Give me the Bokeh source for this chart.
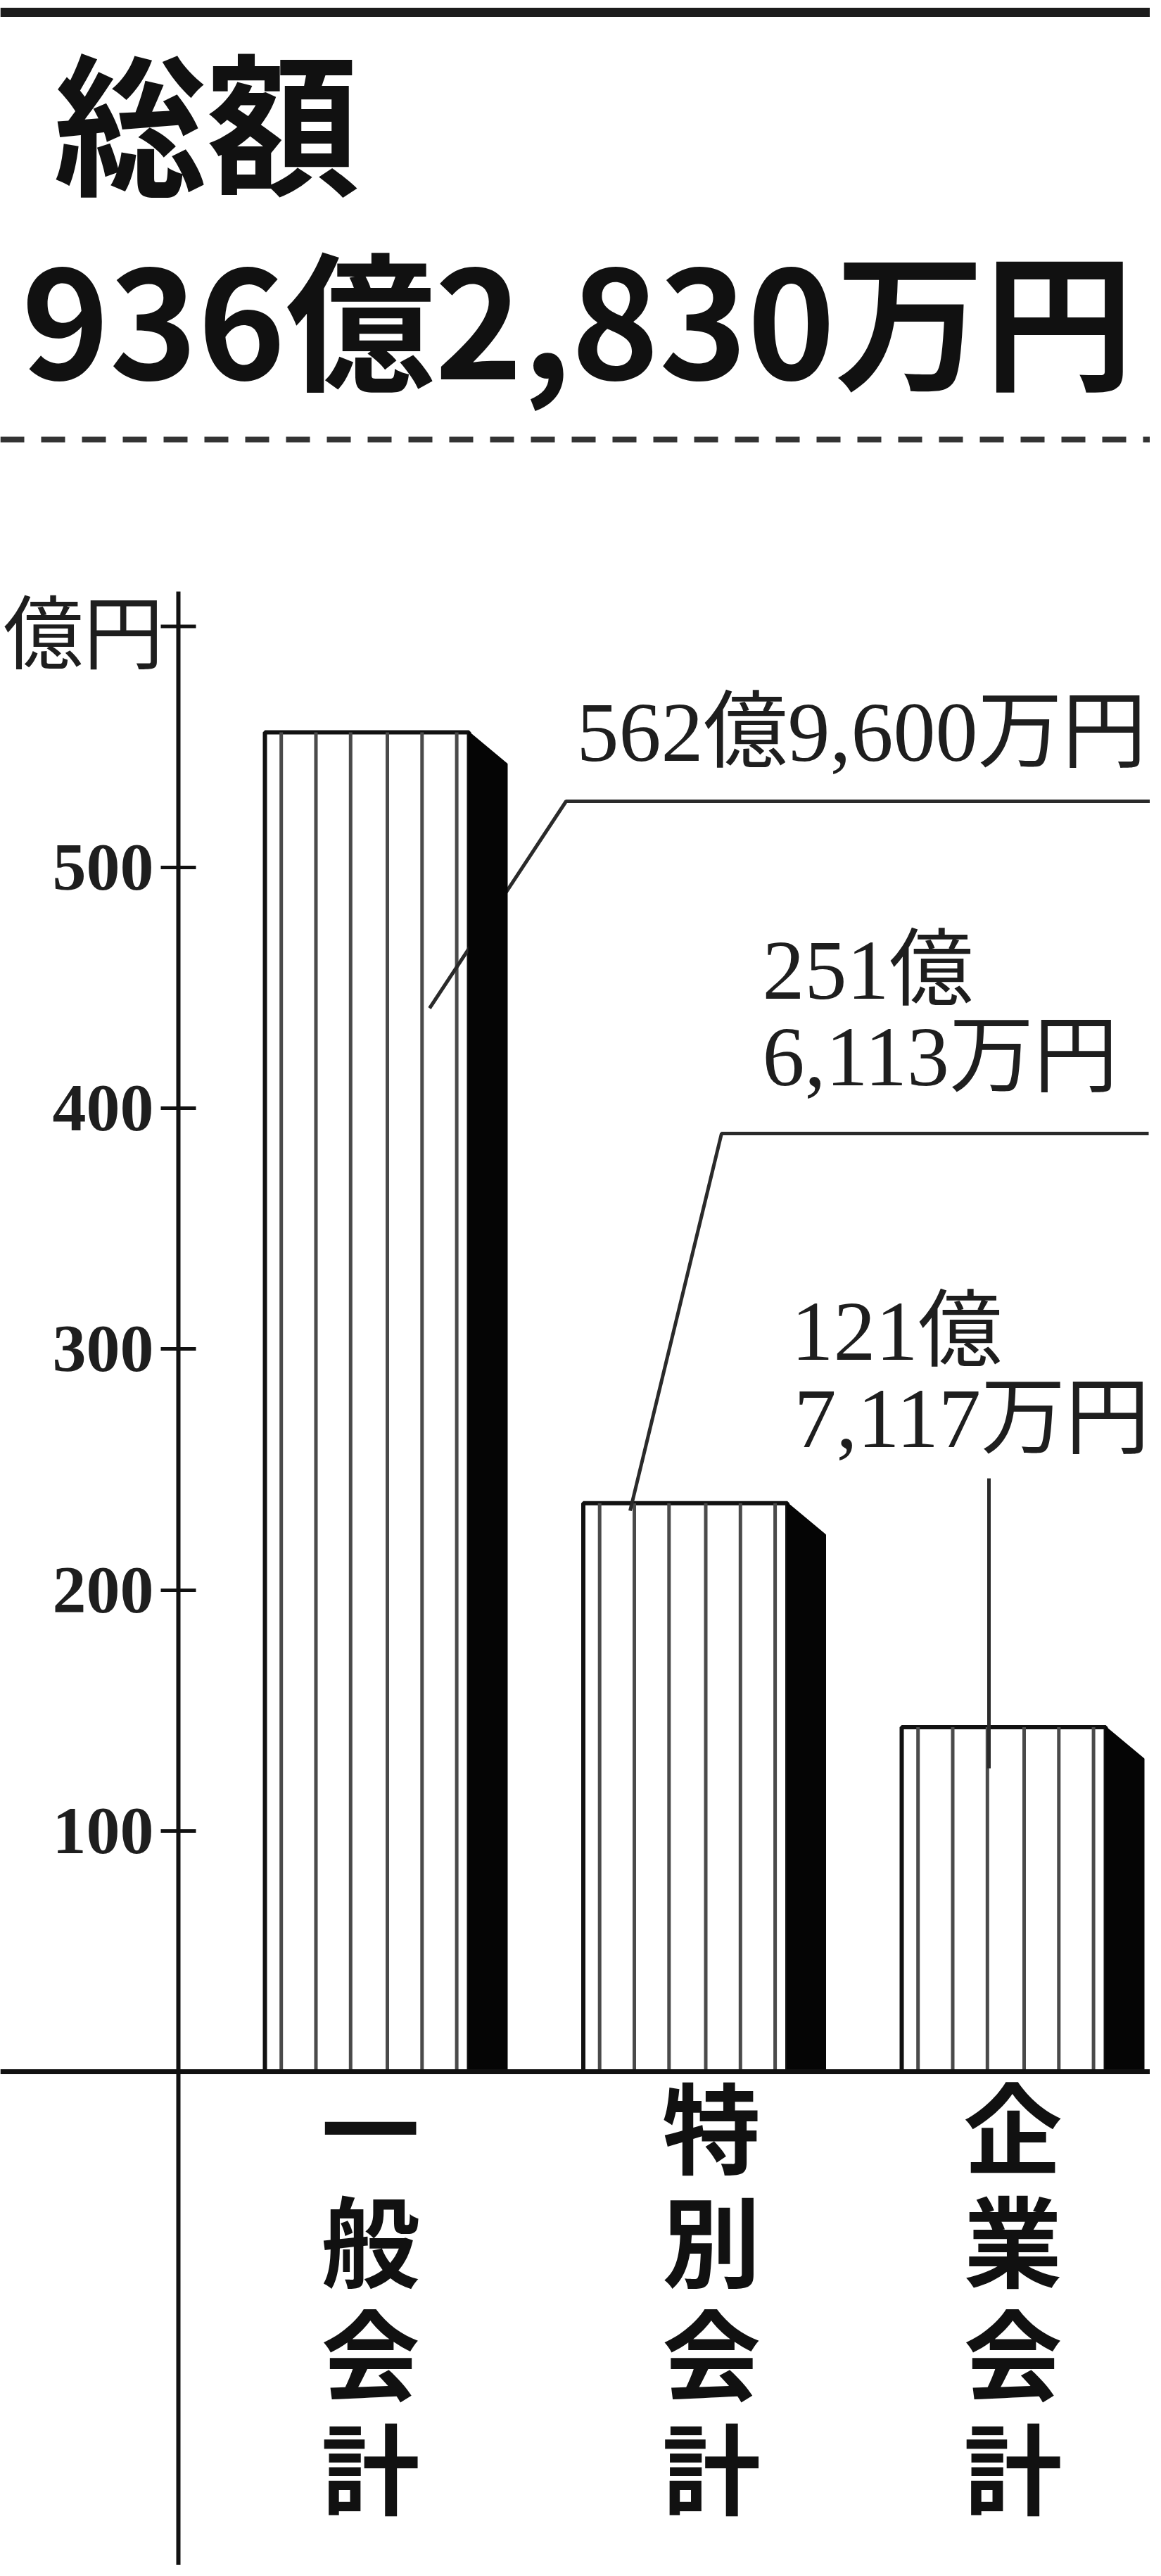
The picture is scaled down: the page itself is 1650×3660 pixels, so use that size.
from bokeh.plotting import figure
from bokeh.models import Range1d, LinearAxis, FixedTicker
from bokeh.core.properties import value
from bokeh.embed import file_html
from bokeh.resources import INLINE

# ---------------- data ----------------
title_text = "総額"
total_text = "936億2,830万円"
unit_text = "億円"
categories = ["一般会計", "特別会計", "企業会計"]
bar_heights = [556, 236, 143]          # 億円 (heights as drawn)
amount_line1 = ["562億9,600万円", "251億", "121億"]
amount_line2 = ["6,113万円", "7,117万円"]
y_ticks = [100, 200, 300, 400, 500]
unit_tick = 600

# ---------------- layout (reference pixel space) ----------------
W, H, M = 1634, 3644, 8
PX_PER_X, X0_PX = 452.5, 76.5
PX_PER_Y, Y0_PX = 3.4225, 2951.0


def X(px):
    return (px - X0_PX) / PX_PER_X


def Y(py):
    return (Y0_PX - py) / PX_PER_Y


FACE_HALF = 145 / PX_PER_X
SIDE_W = 54 / PX_PER_X
BEVEL = 45 / PX_PER_Y
STRIPES = [0.08, 0.25, 0.42, 0.60, 0.77, 0.94]
AXIS_X = X(261)
TICK_HALF = 25 / PX_PER_X

p = figure(width=W, height=H, output_backend="svg", toolbar_location=None,
           x_range=Range1d(X(M), X(M + W)), y_range=Range1d(Y(M + H), Y(M)),
           x_axis_type=None, y_axis_type=None, min_border=0,
           background_fill_color="white", border_fill_color="white")
p.outline_line_color = None
p.xgrid.visible = False
p.ygrid.visible = False

XL, XR = X(M), X(M + W)

# top rule and dashed separator
p.segment(x0=[XL], y0=[Y(25)], x1=[XR], y1=[Y(25)], line_color="#1c1c1c", line_width=13)
p.segment(x0=[XL], y0=[Y(632)], x1=[XR], y1=[Y(632)], line_color="#333333",
          line_width=8, line_dash="34 24")

# titles
p.text(x=[X(84)], y=[Y(173)], text=[title_text], text_font=value("Noto Sans CJK JP"),
       text_font_style="bold", text_font_size="217px", text_color="#111111",
       text_align="left", text_baseline="alphabetic")
p.text(x=[X(38)], y=[Y(454)], text=[total_text],
       text_font=value("Noto Sans CJK JP"),
       text_font_style="bold", text_font_size="212px", text_color="#111111",
       text_align="left", text_baseline="alphabetic")

# bars
xc = [i + 1 for i in range(len(categories))]
left = [x - FACE_HALF for x in xc]
right = [x + FACE_HALF for x in xc]
p.quad(left=left, right=right, bottom=[0] * len(xc), top=bar_heights,
       fill_color="white", line_color="#111111", line_width=6)

sx, sy0, sy1 = [], [], []
for l, r, h in zip(left, right, bar_heights):
    for f in STRIPES:
        sx.append(l + f * (r - l))
        sy0.append(0)
        sy1.append(h)
p.segment(x0=sx, y0=sy0, x1=sx, y1=sy1, line_color="#4a4a4a", line_width=5)

# leader lines
leader_xs = [[X(618), X(812), X(1650)], [X(903), X(1033), X(1640)], [X(1413), X(1413)]]
leader_ys = [[Y(1440), Y(1146), Y(1146)], [Y(2154), Y(1618), Y(1618)], [Y(2520), Y(2108)]]
p.multi_line(xs=leader_xs, ys=leader_ys, line_color="#2a2a2a", line_width=5)

# dark side faces
side_xs, side_ys = [], []
for r, h in zip(right, bar_heights):
    side_xs.append([r, r, r + SIDE_W, r + SIDE_W])
    side_ys.append([0, h, h - BEVEL, 0])
p.patches(xs=side_xs, ys=side_ys, fill_color="#050505", line_color="#050505", line_width=2)

# baseline
p.segment(x0=[XL], y0=[0], x1=[XR], y1=[0], line_color="#111111", line_width=7)

# amount labels
p.text(x=[X(827), X(1091), X(1132)], y=[Y(1048), Y(1386), Y(1899)], text=amount_line1,
       text_font=value("Liberation Serif, Noto Sans CJK JP"), text_font_size="120px",
       text_color="#1e1e1e", text_align="left", text_baseline="alphabetic")
p.text(x=[X(1091), X(1136)], y=[Y(1509), Y(2023)], text=amount_line2,
       text_font=value("Liberation Serif, Noto Sans CJK JP"), text_font_size="120px",
       text_color="#1e1e1e", text_align="left", text_baseline="alphabetic")

# category labels (vertical)
cat_offsets_px = [5, 37, 13]
cat_x = [x + o / PX_PER_X for x, o in zip(xc, cat_offsets_px)]
p.text(x=cat_x, y=[Y(2923)] * len(xc), text=["\n".join(c) for c in categories],
       text_font=value("Noto Sans CJK JP"), text_font_style="bold", text_font_size="140px",
       text_line_height=0.7994, text_color="#111111", text_align="center", text_baseline="top")

# top (unit) tick and unit label
p.segment(x0=[AXIS_X - TICK_HALF], y0=[unit_tick], x1=[AXIS_X + TICK_HALF], y1=[unit_tick],
          line_color="#111111", line_width=5)
p.text(x=[X(240)], y=[Y(899)], text=[unit_text], text_font=value("Noto Sans CJK JP"),
       text_font_size="114px", text_color="#1e1e1e", text_align="right", text_baseline="middle")

# y axis
yax = LinearAxis(fixed_location=AXIS_X, bounds=(Y(M + H), Y(848)),
                 ticker=FixedTicker(ticks=y_ticks))
yax.major_tick_in = 25
yax.major_tick_out = 25
yax.major_tick_line_width = 5
yax.major_tick_line_color = "#111111"
yax.minor_tick_line_color = None
yax.axis_line_width = 6
yax.axis_line_color = "#111111"
yax.major_label_standoff = 10
yax.major_label_text_font = "Liberation Serif"
yax.major_label_text_font_style = "bold"
yax.major_label_text_font_size = "96px"
yax.major_label_text_color = "#1e1e1e"
p.add_layout(yax, "left")

open("out.html", "w").write(file_html(p, INLINE))
